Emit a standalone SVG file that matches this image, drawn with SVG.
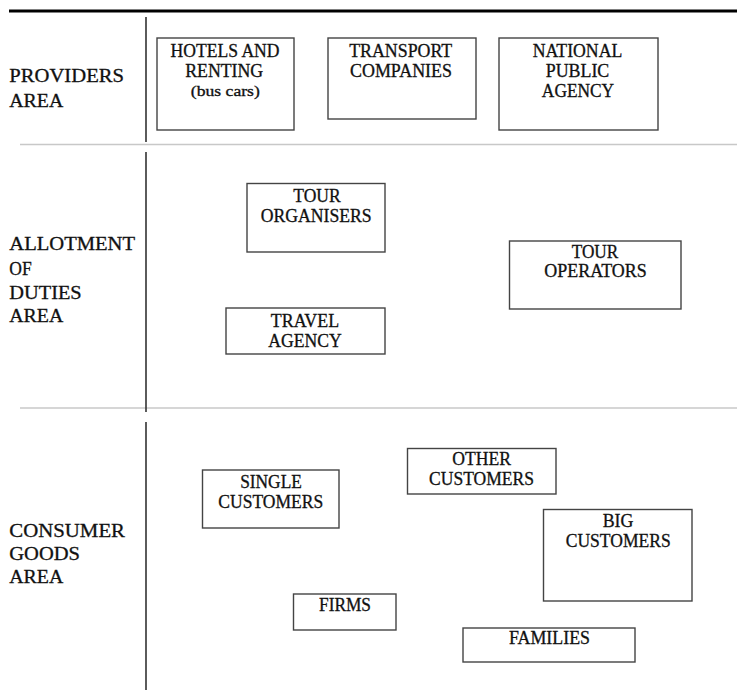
<svg xmlns="http://www.w3.org/2000/svg" width="739" height="691" viewBox="0 0 739 691">
<style>
  .lbl { font-size: 18.5px; }
  .bt { font-size: 18px; text-anchor: middle; }
  .sm { font-size: 14px; text-anchor: middle; }
  .box { fill: #ffffff; stroke: #444444; stroke-width: 1.4; }
  .sep { stroke: #c8c8c8; stroke-width: 1.6; fill: none; }
  .vl { stroke: #333333; stroke-width: 1.6; fill: none; }
  .tx { fill: #111111; stroke: #111111; stroke-width: 0.3; }
</style>
<rect x="0" y="0" width="739" height="691" fill="#ffffff"/>

<g id="frame">
  <line x1="9" y1="11" x2="737" y2="11" stroke="#000000" stroke-width="3"/>
  <line class="sep" x1="20" y1="144.5" x2="737" y2="144.5"/>
  <line class="sep" x1="20" y1="408" x2="737" y2="408"/>
  <line class="vl" x1="146" y1="17" x2="146" y2="142"/>
  <line class="vl" x1="146" y1="152" x2="146" y2="412"/>
  <line class="vl" x1="146" y1="422" x2="146" y2="690"/>
</g>

<g id="area-labels" class="tx">
  <text font-family="Liberation Serif" class="lbl" x="9.3" y="81.7" textLength="114.7" lengthAdjust="spacingAndGlyphs">PROVIDERS</text>
  <text font-family="Liberation Serif" class="lbl" x="9.3" y="106.7" textLength="54" lengthAdjust="spacingAndGlyphs">AREA</text>
  <text font-family="Liberation Serif" class="lbl" x="9.3" y="250" textLength="125.7" lengthAdjust="spacingAndGlyphs">ALLOTMENT</text>
  <text font-family="Liberation Serif" class="lbl" x="9.3" y="275" textLength="22.4" lengthAdjust="spacingAndGlyphs">OF</text>
  <text font-family="Liberation Serif" class="lbl" x="9.3" y="299" textLength="72.4" lengthAdjust="spacingAndGlyphs">DUTIES</text>
  <text font-family="Liberation Serif" class="lbl" x="9.3" y="321.7" textLength="54" lengthAdjust="spacingAndGlyphs">AREA</text>
  <text font-family="Liberation Serif" class="lbl" x="9.3" y="537.3" textLength="115.7" lengthAdjust="spacingAndGlyphs">CONSUMER</text>
  <text font-family="Liberation Serif" class="lbl" x="9.3" y="560" textLength="70.7" lengthAdjust="spacingAndGlyphs">GOODS</text>
  <text font-family="Liberation Serif" class="lbl" x="9.3" y="583.3" textLength="54" lengthAdjust="spacingAndGlyphs">AREA</text>
</g>

<g id="connectors"></g>

<g id="hotels">
  <rect class="box" x="157" y="38" width="137" height="92"/>
  <text font-family="Liberation Serif" class="bt tx" x="225" y="56.7" textLength="109" lengthAdjust="spacingAndGlyphs">HOTELS AND</text>
  <text font-family="Liberation Serif" class="bt tx" x="224.2" y="76.7" textLength="78" lengthAdjust="spacingAndGlyphs">RENTING</text>
  <text font-family="Liberation Serif" class="sm tx" x="225.3" y="96" textLength="69" lengthAdjust="spacingAndGlyphs">(bus cars)</text>
</g>

<g id="transport">
  <rect class="box" x="328" y="38" width="148" height="81"/>
  <text font-family="Liberation Serif" class="bt tx" x="400.7" y="56.7" textLength="103" lengthAdjust="spacingAndGlyphs">TRANSPORT</text>
  <text font-family="Liberation Serif" class="bt tx" x="401" y="76.7" textLength="102" lengthAdjust="spacingAndGlyphs">COMPANIES</text>
</g>

<g id="national">
  <rect class="box" x="499" y="38" width="159" height="92"/>
  <text font-family="Liberation Serif" class="bt tx" x="577.5" y="56.7" textLength="89.6" lengthAdjust="spacingAndGlyphs">NATIONAL</text>
  <text font-family="Liberation Serif" class="bt tx" x="577.5" y="76.7" textLength="63.6" lengthAdjust="spacingAndGlyphs">PUBLIC</text>
  <text font-family="Liberation Serif" class="bt tx" x="578" y="96.7" textLength="72.3" lengthAdjust="spacingAndGlyphs">AGENCY</text>
</g>

<g id="tour-organisers">
  <rect class="box" x="247" y="183.5" width="138" height="68.5"/>
  <text font-family="Liberation Serif" class="bt tx" x="317" y="202.3" textLength="47.4" lengthAdjust="spacingAndGlyphs">TOUR</text>
  <text font-family="Liberation Serif" class="bt tx" x="316.2" y="221.7" textLength="111" lengthAdjust="spacingAndGlyphs">ORGANISERS</text>
</g>

<g id="travel-agency">
  <rect class="box" x="226" y="308" width="159" height="46"/>
  <text font-family="Liberation Serif" class="bt tx" x="305" y="326.7" textLength="68.3" lengthAdjust="spacingAndGlyphs">TRAVEL</text>
  <text font-family="Liberation Serif" class="bt tx" x="305" y="346.7" textLength="73.4" lengthAdjust="spacingAndGlyphs">AGENCY</text>
</g>

<g id="tour-operators">
  <rect class="box" x="509.5" y="241" width="171.5" height="68"/>
  <text font-family="Liberation Serif" class="bt tx" x="595" y="257.7" textLength="46.6" lengthAdjust="spacingAndGlyphs">TOUR</text>
  <text font-family="Liberation Serif" class="bt tx" x="595.5" y="276.7" textLength="102.4" lengthAdjust="spacingAndGlyphs">OPERATORS</text>
</g>

<g id="single-customers">
  <rect class="box" x="202.5" y="470" width="136.5" height="58"/>
  <text font-family="Liberation Serif" class="bt tx" x="271" y="488.3" textLength="61.7" lengthAdjust="spacingAndGlyphs">SINGLE</text>
  <text font-family="Liberation Serif" class="bt tx" x="270.8" y="508.3" textLength="105" lengthAdjust="spacingAndGlyphs">CUSTOMERS</text>
</g>

<g id="other-customers">
  <rect class="box" x="407.5" y="448.5" width="148.5" height="45.5"/>
  <text font-family="Liberation Serif" class="bt tx" x="481.7" y="465" textLength="58.7" lengthAdjust="spacingAndGlyphs">OTHER</text>
  <text font-family="Liberation Serif" class="bt tx" x="481.5" y="485" textLength="105" lengthAdjust="spacingAndGlyphs">CUSTOMERS</text>
</g>

<g id="big-customers">
  <rect class="box" x="543.5" y="509.5" width="148.5" height="91.5"/>
  <text font-family="Liberation Serif" class="bt tx" x="618" y="527.3" textLength="30.7" lengthAdjust="spacingAndGlyphs">BIG</text>
  <text font-family="Liberation Serif" class="bt tx" x="618.2" y="547.3" textLength="105" lengthAdjust="spacingAndGlyphs">CUSTOMERS</text>
</g>

<g id="firms">
  <rect class="box" x="293.5" y="594" width="102.5" height="36"/>
  <text font-family="Liberation Serif" class="bt tx" x="345" y="610.7" textLength="52" lengthAdjust="spacingAndGlyphs">FIRMS</text>
</g>

<g id="families">
  <rect class="box" x="463" y="628" width="172" height="34"/>
  <text font-family="Liberation Serif" class="bt tx" x="549.5" y="644.3" textLength="81" lengthAdjust="spacingAndGlyphs">FAMILIES</text>
</g>
</svg>
